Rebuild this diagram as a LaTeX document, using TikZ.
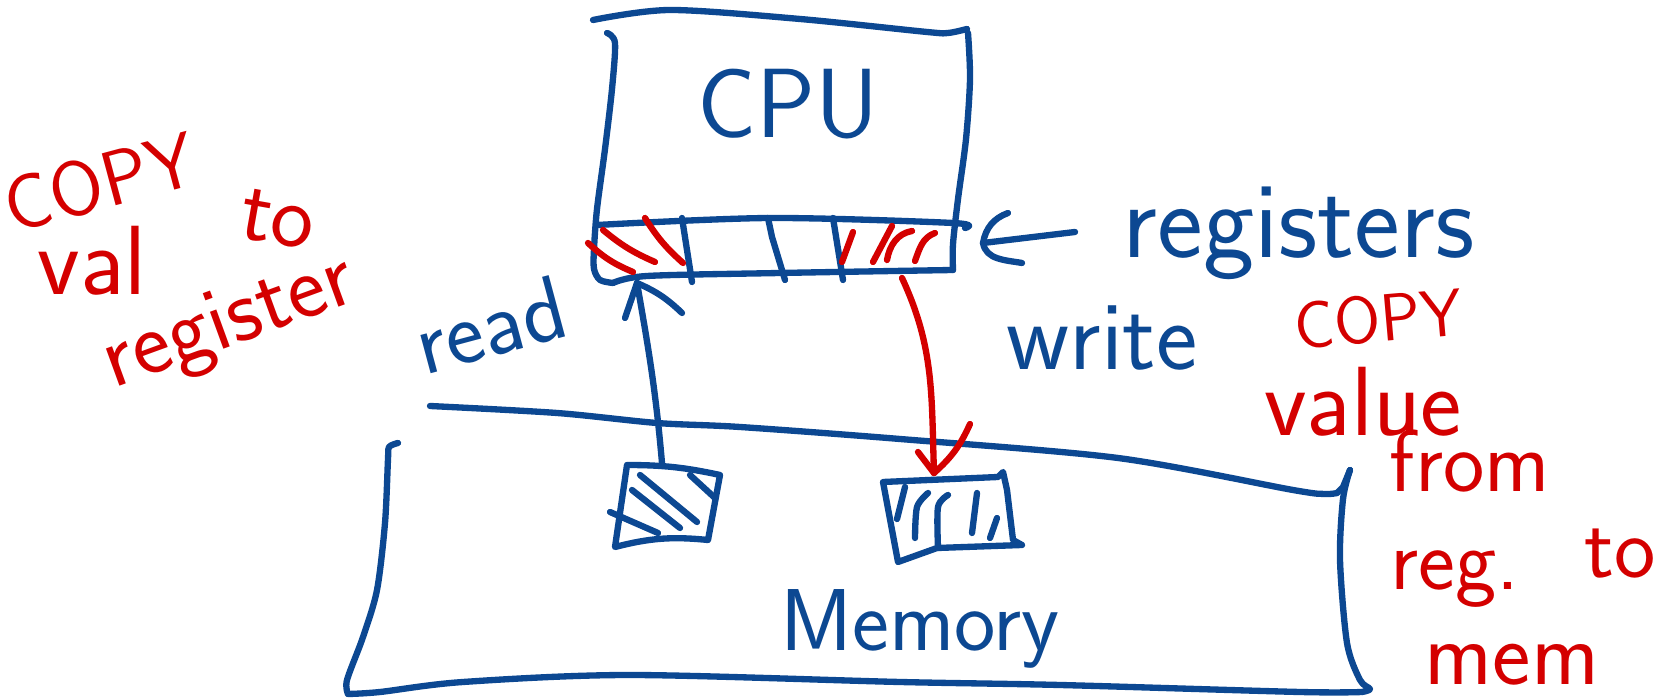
\documentclass[tikz,border=0pt]{standalone}
\usepackage{tikz}
\usetikzlibrary{arrows.meta, positioning}
\definecolor{penblue}{RGB}{12,72,146}
\definecolor{penred}{RGB}{212,0,0}

\tikzset{
    pen/.style={line width=1.8pt, line cap=round, line join=round},
    bluepen/.style={pen, draw=penblue},
    redpen/.style={pen, draw=penred},
    bluetext/.style={text=penblue, inner sep=0pt, font=\sffamily\fontsize{28}{30}\selectfont},
    redtext/.style={text=penred, inner sep=0pt, font=\sffamily\fontsize{26}{28}\selectfont}
}

\begin{document}
\begin{tikzpicture}

            \useasboundingbox (0,0) rectangle (16.69,6.99);

            % Vẽ khối CPU
            \draw[bluepen] plot[smooth] coordinates {(5.93,6.79) (6.70,6.89) (8.00,6.80) (9.27,6.67) (9.48,6.66) (9.67,6.70)};
            \draw[bluepen] plot[smooth] coordinates {(9.68,6.66) (9.70,6.20) (9.66,5.60) (9.58,5.00) (9.53,4.55) (9.53,4.29)};
            \draw[bluepen] plot[smooth] coordinates {(6.07,6.66) (6.15,6.56) (6.12,6.10) (6.05,5.50) (5.97,4.90) (5.94,4.50) (5.94,4.30) (6.00,4.19) (6.13,4.16)};
            \draw[bluepen] plot[smooth] coordinates {(6.13,4.16) (6.47,4.23) (7.80,4.26) (9.53,4.29)};
            \node[bluetext] (cpu) at (7.88,5.95) {CPU};

            % Dải thanh ghi
            \draw[bluepen] plot[smooth] coordinates {(5.97,4.74) (7.70,4.81) (9.53,4.76) (9.65,4.71)};
            \draw[bluepen] (6.82,4.81) -- (6.92,4.17);
            \draw[bluepen] (7.68,4.81) -- (7.72,4.62) -- (7.85,4.19);
            \draw[bluepen] (8.33,4.81) -- (8.43,4.19);

            % Gạch đỏ trong thanh ghi
            \draw[redpen] (5.88,4.56) to[bend right=10] (6.33,4.27);
            \draw[redpen] (6.03,4.69) to[bend right=8] (6.55,4.37);
            \draw[redpen] (6.45,4.81) to[bend right=8] (6.83,4.36);
            \draw[redpen] (8.53,4.67) -- (8.42,4.37);
            \draw[redpen] (8.92,4.73) -- (8.73,4.37);
            \draw[redpen] (9.12,4.68) to[out=190,in=80] (8.87,4.39);
            \draw[redpen] (9.35,4.66) to[out=200,in=70] (9.15,4.38);

            % Mũi tên chỉ thanh ghi
            \coordinate (bandR) at (9.83,4.56);
            \coordinate (tailR) at (10.75,4.67);
            \draw[bluepen] (tailR) -- (bandR);
            \draw[bluepen] (10.08,4.86) to[out=200,in=80] (bandR) to[out=-80,in=170] (10.22,4.36);
            \node[bluetext, anchor=west, font=\sffamily\fontsize{31}{33}\selectfont] (regs) at (11.22,4.66) {registers};

            % Khối bộ nhớ
            \draw[bluepen] plot[smooth] coordinates {(4.30,2.93) (5.57,2.86) (6.57,2.76) (7.40,2.72) (9.00,2.60) (11.18,2.41) (12.93,2.09) (13.25,2.05) (13.37,2.06)};
            \draw[bluepen] (13.37,2.06) -- (13.43,2.12) -- (13.50,2.29);
            \draw[bluepen] plot[smooth] coordinates {(13.50,2.29) (13.43,2.00) (13.40,1.39) (13.47,0.56) (13.60,0.19) (13.70,0.10) (13.62,0.07)};
            \draw[bluepen] plot[smooth] coordinates {(13.62,0.07) (13.00,0.07) (10.60,0.14) (9.00,0.17) (6.30,0.24) (4.63,0.17) (3.80,0.07) (3.48,0.05)};
            \draw[bluepen] plot[smooth] coordinates {(3.98,2.56) (3.89,2.52) (3.88,2.40) (3.85,1.76) (3.77,1.09) (3.63,0.62) (3.47,0.19) (3.48,0.05)};
            \node[bluetext, anchor=base, font=\sffamily\fontsize{25}{27}\selectfont] (mem) at (9.20,0.48) {Memory};

            % Ô nhớ bên trái
            \draw[bluepen] (6.27,2.34) to[bend left=6] (7.20,2.24) -- (7.08,1.59) to[bend right=10] (6.15,1.52) -- cycle;
            \draw[bluepen] (6.40,2.24) -- (6.97,1.77);
            \draw[bluepen] (6.32,2.09) -- (6.80,1.71);
            \draw[bluepen] (6.10,1.87) -- (6.58,1.66);
            \draw[bluepen] (6.90,2.24) -- (7.15,2.01);

            % Ô nhớ bên phải
            \draw[bluepen] (8.83,2.17) -- (9.98,2.22) -- (10.03,2.27) -- (10.07,2.09) -- (10.13,1.59) -- (10.22,1.54) -- (9.37,1.51) -- (8.98,1.37) -- cycle;
            \draw[bluepen] (9.05,2.12) -- (8.97,1.80);
            \draw[bluepen] plot[smooth] coordinates {(9.28,2.06) (9.17,1.92) (9.15,1.61)};
            \draw[bluepen] plot[smooth] coordinates {(9.48,2.04) (9.38,1.92) (9.38,1.51)};
            \draw[bluepen] (9.77,2.06) -- (9.72,1.66);
            \draw[bluepen] (9.97,1.81) -- (9.90,1.61);

            % Mũi tên đọc
            \coordinate (cellA) at (6.62,2.36);
            \coordinate (tipA) at (6.37,4.16);
            \draw[bluepen] (cellA) to[out=95,in=-80] (tipA);
            \draw[bluepen] (tipA) -- ++(-0.12,-0.35);
            \draw[bluepen] (tipA) to[bend left=10] ++(0.45,-0.30);
            \node[bluetext, rotate=15, font=\sffamily\fontsize{26}{28}\selectfont] (rd) at (4.90,3.74) {read};

            % Mũi tên ghi
            \coordinate (regB) at (9.02,4.21);
            \coordinate (cellB) at (9.34,2.26);
            \draw[redpen] (regB) to[out=-65,in=92] (cellB);
            \draw[redpen] (cellB) -- ++(-0.16,0.21);
            \draw[redpen] (cellB) to[bend right=12] ++(0.36,0.49);
            \node[bluetext] (wr) at (11.02,3.61) {write};

            % Ghi chú màu đỏ bên trái
            \node[redtext, rotate=15, font=\sffamily\fontsize{22}{24}\selectfont] (copyL) at (1.00,5.17) {COPY};
            \node[redtext, font=\sffamily\fontsize{28}{30}\selectfont] (valL) at (0.92,4.38) {val};
            \node[redtext, rotate=-10] (toL) at (2.78,4.80) {to};
            \node[redtext, rotate=20, font=\sffamily\fontsize{26}{28}\selectfont] (regL) at (2.30,3.74) {register};

            % Ghi chú màu đỏ bên phải
            \node[redtext, rotate=5, font=\sffamily\fontsize{19}{21}\selectfont] (copyR) at (13.78,3.80) {COPY};
            \node[redtext, font=\sffamily\fontsize{28}{30}\selectfont] (valR) at (13.63,2.97) {value};
            \node[redtext, font=\sffamily\fontsize{25}{27}\selectfont] (fromR) at (14.70,2.38) {from};
            \node[redtext, font=\sffamily\fontsize{25}{27}\selectfont] (regR) at (14.55,1.20) {reg.};
            \node[redtext, font=\sffamily\fontsize{25}{27}\selectfont] (toR) at (16.20,1.45) {to};
            \node[redtext] (memR) at (15.12,0.34) {mem};

\end{tikzpicture}
\end{document}
